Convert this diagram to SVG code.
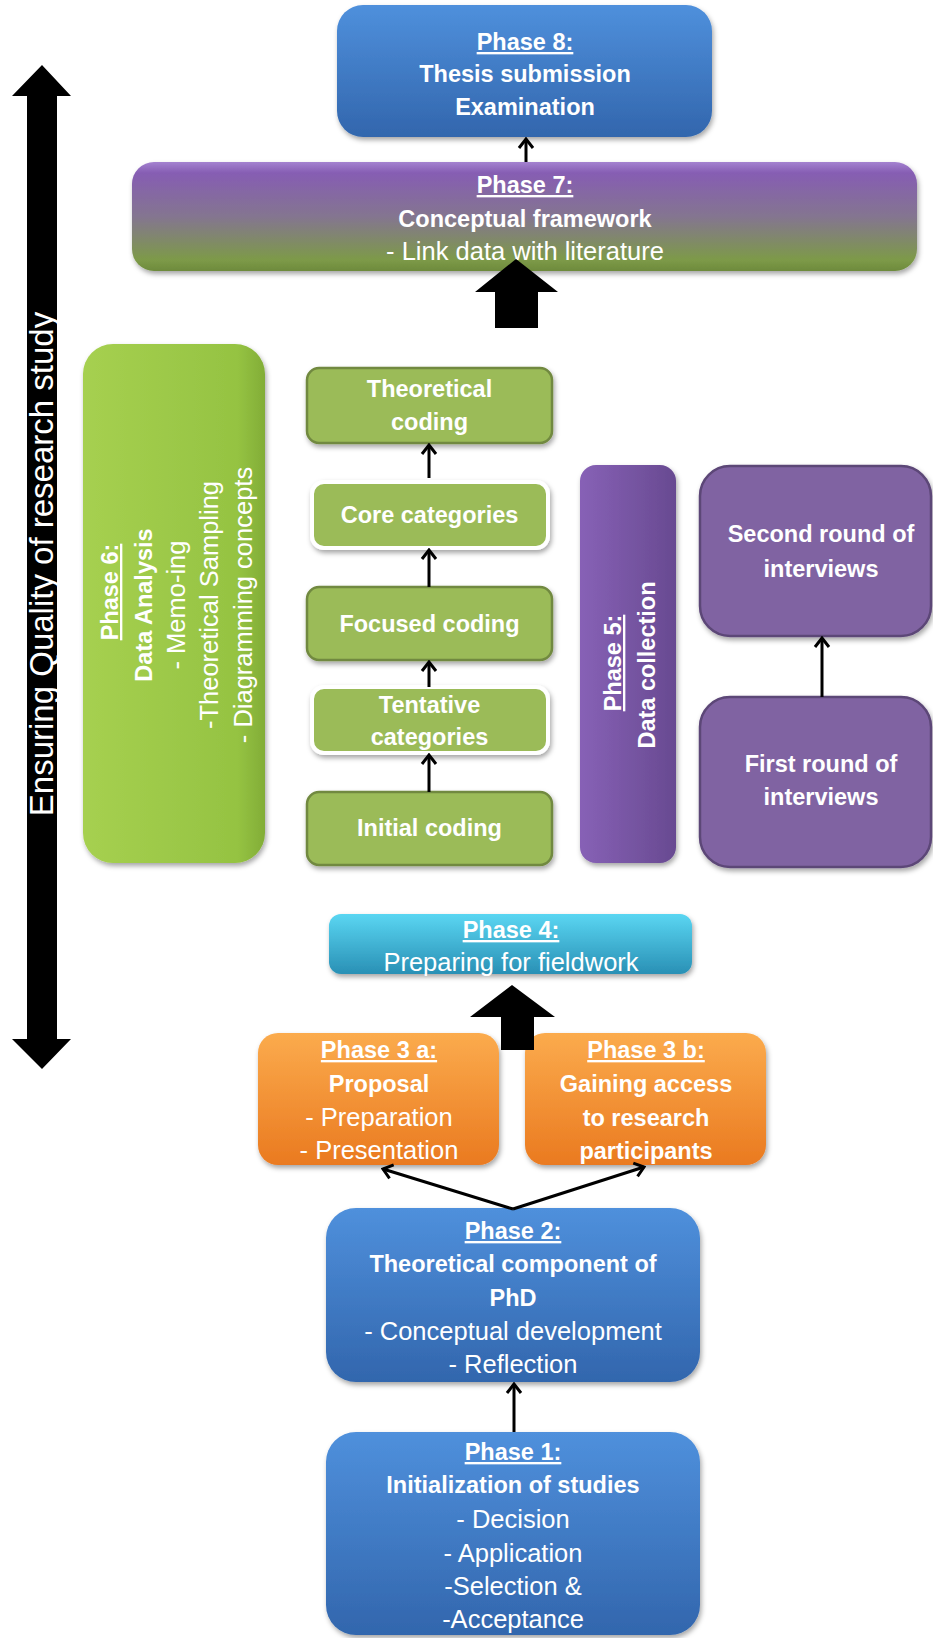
<svg xmlns="http://www.w3.org/2000/svg" width="933" height="1638" viewBox="0 0 933 1638">
<defs>
<style>
.t{font-family:"Liberation Sans",Arial,sans-serif;fill:#fff;text-anchor:middle}
.b{font-weight:bold;font-size:23.5px}
.r{font-size:25.5px}
.u{text-decoration:underline}
.conn{stroke:#000;stroke-width:3;fill:none;marker-end:url(#ah)}
.green{fill:#9bbb59;stroke:#71893f;stroke-width:2.5}
.greenw{fill:#9bbb59;stroke:#fff;stroke-width:4}
.purp{fill:#8064a2;stroke:#5c4677;stroke-width:2.5}
</style>
<linearGradient id="gBlue" x1="0" y1="0" x2="0" y2="1"><stop offset="0" stop-color="#4f90dc"/><stop offset="1" stop-color="#3266ad"/></linearGradient>
<linearGradient id="gP7" x1="0" y1="0" x2="0" y2="1"><stop offset="0" stop-color="#a482d0"/><stop offset="0.1" stop-color="#865db3"/><stop offset="0.5" stop-color="#847590"/><stop offset="0.9" stop-color="#7d9a48"/><stop offset="1" stop-color="#6d8a3c"/></linearGradient>
<linearGradient id="gP6" x1="0" y1="0" x2="1" y2="0"><stop offset="0" stop-color="#a6d050"/><stop offset="0.85" stop-color="#95c342"/><stop offset="1" stop-color="#82ad37"/></linearGradient>
<linearGradient id="gP5" x1="0" y1="0" x2="1" y2="0"><stop offset="0" stop-color="#8761b6"/><stop offset="1" stop-color="#684a91"/></linearGradient>
<linearGradient id="gCyan" x1="0" y1="0" x2="0" y2="1"><stop offset="0" stop-color="#5ad6f2"/><stop offset="1" stop-color="#2990b5"/></linearGradient>
<linearGradient id="gOrange" x1="0" y1="0" x2="0" y2="1"><stop offset="0" stop-color="#fbab4d"/><stop offset="1" stop-color="#ea7a20"/></linearGradient>
<filter id="sh" x="-10%" y="-10%" width="120%" height="130%"><feDropShadow dx="1.5" dy="3" stdDeviation="2.5" flood-color="#000" flood-opacity="0.35"/></filter>
<marker id="ah" viewBox="-2 -9 14 18" refX="10" refY="0" markerWidth="14" markerHeight="18" orient="auto" markerUnits="userSpaceOnUse"><path d="M1,-7 L10,0 L1,7" fill="none" stroke="#000" stroke-width="3"/></marker>
</defs>
<rect width="933" height="1638" fill="#fff"/>

<g id="quality-arrow">
<polygon points="42,65 71,96 57,96 57,1039 71,1039 42,1069 12,1039 27,1039 27,96 12,96" fill="#000"/>
<text class="t" font-size="33" transform="translate(53,564) rotate(-90)">Ensuring Quality of research study</text>
</g>

<g id="phase8">
<rect x="337" y="5" width="375" height="132" rx="26" fill="url(#gBlue)" filter="url(#sh)"/>
<text class="t b u" x="525" y="50">Phase 8:</text>
<text class="t b" x="525" y="82">Thesis submission</text>
<text class="t b" x="525" y="115">Examination</text>
</g>

<g id="phase7">
<rect x="132" y="162" width="785" height="109" rx="22" fill="url(#gP7)" filter="url(#sh)"/>
<text class="t b u" x="525" y="193">Phase 7:</text>
<text class="t b" x="525" y="227">Conceptual framework</text>
<text class="t r" x="525" y="260">- Link data with literature</text>
</g>

<g id="phase6">
<rect x="83" y="344" width="182" height="519" rx="30" fill="url(#gP6)" filter="url(#sh)"/>
<text class="t b u" transform="translate(118,592) rotate(-90)">Phase 6:</text>
<text class="t b" transform="translate(152,605) rotate(-90)">Data Analysis</text>
<text class="t r" transform="translate(185,605) rotate(-90)">- Memo-ing</text>
<text class="t r" transform="translate(218,605) rotate(-90)">-Theoretical Sampling</text>
<text class="t r" transform="translate(252,605) rotate(-90)">- Diagramming concepts</text>
</g>

<g id="theoretical-coding">
<rect class="green" x="307" y="368" width="245" height="75" rx="12" filter="url(#sh)"/>
<text class="t b" x="429.5" y="397">Theoretical</text>
<text class="t b" x="429.5" y="430">coding</text>
</g>
<g id="core-categories">
<rect class="greenw" x="312" y="482" width="236" height="66" rx="12" filter="url(#sh)"/>
<text class="t b" x="429.5" y="523">Core categories</text>
</g>
<g id="focused-coding">
<rect class="green" x="307" y="587" width="245" height="73" rx="12" filter="url(#sh)"/>
<text class="t b" x="429.5" y="632">Focused coding</text>
</g>
<g id="tentative-categories">
<rect class="greenw" x="312" y="687" width="236" height="66" rx="12" filter="url(#sh)"/>
<text class="t b" x="429.5" y="713">Tentative</text>
<text class="t b" x="429.5" y="745">categories</text>
</g>
<g id="initial-coding">
<rect class="green" x="307" y="792" width="245" height="73" rx="12" filter="url(#sh)"/>
<text class="t b" x="429.5" y="836">Initial coding</text>
</g>

<g id="phase5">
<rect x="580" y="465" width="96" height="398" rx="16" fill="url(#gP5)" filter="url(#sh)"/>
<text class="t b u" transform="translate(621,663) rotate(-90)">Phase 5:</text>
<text class="t b" transform="translate(655,665) rotate(-90)">Data collection</text>
</g>

<g id="second-round">
<rect class="purp" x="700" y="466" width="231" height="170" rx="30" filter="url(#sh)"/>
<text class="t b" x="821" y="542">Second round of</text>
<text class="t b" x="821" y="577">interviews</text>
</g>
<g id="first-round">
<rect class="purp" x="700" y="697" width="231" height="170" rx="30" filter="url(#sh)"/>
<text class="t b" x="821" y="772">First round of</text>
<text class="t b" x="821" y="805">interviews</text>
</g>

<g id="phase4">
<rect x="329" y="914" width="363" height="60" rx="12" fill="url(#gCyan)" filter="url(#sh)"/>
<text class="t b u" x="511" y="938">Phase 4:</text>
<text class="t r" x="511" y="971">Preparing for fieldwork</text>
</g>

<g id="phase3a">
<rect x="258" y="1033" width="241" height="132" rx="20" fill="url(#gOrange)" filter="url(#sh)"/>
<text class="t b u" x="379" y="1058">Phase 3 a:</text>
<text class="t b" x="379" y="1092">Proposal</text>
<text class="t r" x="379" y="1126">- Preparation</text>
<text class="t r" x="379" y="1159">- Presentation</text>
</g>

<g id="phase3b">
<rect x="525" y="1033" width="241" height="132" rx="20" fill="url(#gOrange)" filter="url(#sh)"/>
<text class="t b u" x="646" y="1058">Phase 3 b:</text>
<text class="t b" x="646" y="1092">Gaining access</text>
<text class="t b" x="646" y="1126">to research</text>
<text class="t b" x="646" y="1159">participants</text>
</g>

<g id="phase2">
<rect x="326" y="1208" width="374" height="174" rx="30" fill="url(#gBlue)" filter="url(#sh)"/>
<text class="t b u" x="513" y="1239">Phase 2:</text>
<text class="t b" x="513" y="1272">Theoretical component of</text>
<text class="t b" x="513" y="1306">PhD</text>
<text class="t r" x="513" y="1340">- Conceptual development</text>
<text class="t r" x="513" y="1373">- Reflection</text>
</g>

<g id="phase1">
<rect x="326" y="1432" width="374" height="203" rx="30" fill="url(#gBlue)" filter="url(#sh)"/>
<text class="t b u" x="513" y="1460">Phase 1:</text>
<text class="t b" x="513" y="1493">Initialization of studies</text>
<text class="t r" x="513" y="1528">- Decision</text>
<text class="t r" x="513" y="1562">- Application</text>
<text class="t r" x="513" y="1595">-Selection &amp;</text>
<text class="t r" x="513" y="1628">-Acceptance</text>
</g>

<g id="connectors">
<line class="conn" x1="526" y1="162" x2="526" y2="139"/>
<line class="conn" x1="429" y1="478" x2="429" y2="445"/>
<line class="conn" x1="429" y1="587" x2="429" y2="550"/>
<line class="conn" x1="429" y1="687" x2="429" y2="662"/>
<line class="conn" x1="429" y1="792" x2="429" y2="755"/>
<line class="conn" x1="822" y1="697" x2="822" y2="638"/>
<line class="conn" x1="514" y1="1432" x2="514" y2="1384"/>
<line class="conn" x1="513" y1="1209" x2="383" y2="1169"/>
<line class="conn" x1="513" y1="1209" x2="644" y2="1167"/>
<polygon points="516,259 558,292 538,292 538,328 495,328 495,292 475,292" fill="#000"/>
<polygon points="512,985 555,1017 534,1017 534,1050 501,1050 501,1017 470,1017" fill="#000"/>
</g>
</svg>
